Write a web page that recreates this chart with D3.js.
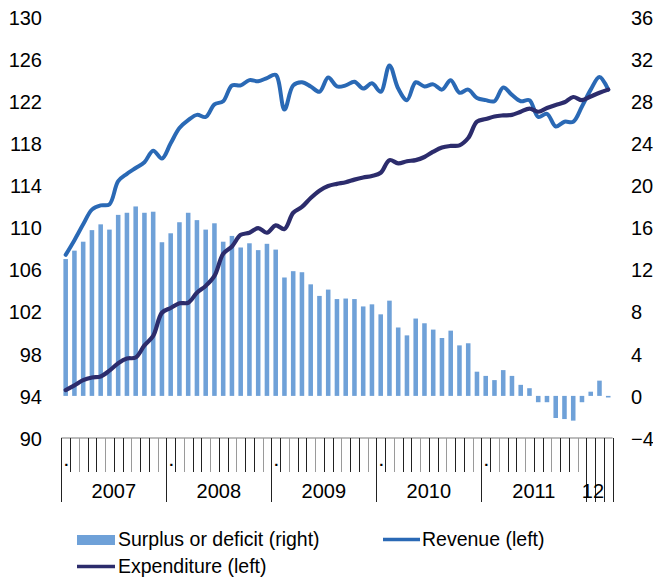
<!DOCTYPE html>
<html>
<head>
<meta charset="utf-8">
<script src="https://cdn.jsdelivr.net/npm/d3@7"></script>
<style>
  html, body { margin: 0; padding: 0; background: #fff; }
  svg { display: block; font-family: "Liberation Sans", Arial, sans-serif; }
</style>
</head>
<body>
<svg id="chart" width="653" height="579"></svg>
<script>
// ---- Data (monthly, Jan 2007 - Mar 2012) ----
const months = d3.range(63); // index of month since Jan 2007
const yearLabels = ["2007", "2008", "2009", "2010", "2011", "12"];
const leftTicks = [90, 94, 98, 102, 106, 110, 114, 118, 122, 126, 130];
const rightTicks = [-4, 0, 4, 8, 12, 16, 20, 24, 28, 32, 36];

const surplus = [
  13.0, 13.8, 14.65, 15.75, 16.3, 15.8, 17.2, 17.4, 18.0, 17.4, 17.5, 14.6,
  15.45, 16.5, 17.4, 16.7, 15.8, 16.4, 14.65, 15.2, 14.1, 14.5, 13.85, 14.45,
  13.9, 11.25, 11.85, 11.75, 10.6, 9.5, 10.1, 9.2, 9.25, 9.2, 8.5, 8.7,
  7.75, 9.05, 6.5, 5.75, 7.35, 6.9, 6.3, 5.5, 6.2, 4.8, 5.0, 2.3,
  1.9, 1.5, 2.45, 1.9, 1.05, 0.73, -0.6, -0.6, -2.1, -2.2, -2.35, -0.6,
  0.4, 1.45, -0.15
];
const revenue = [
  107.4, 108.8, 110.3, 111.7, 112.1, 112.2, 114.4, 115.1, 115.65, 116.2, 117.3, 116.55,
  118.0, 119.45, 120.2, 120.7, 120.5, 121.7, 122.0, 123.5, 123.5, 124.0, 123.9, 124.2,
  124.5, 121.2, 123.5, 123.8, 123.4, 122.9, 124.25, 123.4, 123.5, 123.85, 123.2, 123.7,
  122.9, 125.4, 123.2, 122.1, 123.8, 123.4, 123.6, 123.1, 124.0, 122.8, 123.1, 122.3,
  122.1, 122.0, 123.3, 122.6, 122.0, 122.1, 120.5, 120.8, 119.6, 120.05, 120.05, 121.5,
  123.1, 124.3, 123.1
];
const expenditure = [
  94.56, 95.0, 95.5, 95.75, 95.85, 96.4, 97.1, 97.55, 97.65, 98.8, 99.7, 101.9,
  102.35, 102.8, 102.85, 103.8, 104.45, 105.4, 107.5, 108.2, 109.3, 109.5, 109.95, 109.5,
  110.2, 109.85, 111.4, 111.95, 112.8, 113.5, 113.95, 114.15, 114.3, 114.55, 114.75, 114.9,
  115.2, 116.4, 116.1, 116.3, 116.4, 116.7, 117.2, 117.6, 117.75, 117.8, 118.5, 120.05,
  120.3, 120.55, 120.65, 120.7, 121.0, 121.3, 121.0, 121.35, 121.65, 121.9, 122.4, 122.1,
  122.45, 122.8, 123.1
];

const seriesNames = ["Surplus or deficit (right)", "Revenue (left)", "Expenditure (left)"];
const colors = { surplus: "#6fa1d8", revenue: "#2a69b5", expenditure: "#2c2c6c" };

// ---- Layout ----
const svg = d3.select("#chart");
const plotTop = 17, plotBottom = 438, plotLeft = 61.3, plotRight = 612.6;

const x = d3.scaleBand().domain(months).range([plotLeft, plotRight]).padding(0);
const step = x.step();
const cx = i => x(i) + step / 2;
const yL = d3.scaleLinear().domain([90, 130]).range([plotBottom, plotTop]);
const yR = d3.scaleLinear().domain([-4, 36]).range([plotBottom, plotTop]);

// ---- Bars ----
const barW = step * 0.52;
svg.append("g").selectAll("rect").data(months).join("rect")
  .attr("x", i => cx(i) - barW / 2)
  .attr("width", barW)
  .attr("y", i => Math.min(yR(surplus[i]), yR(0)))
  .attr("height", i => Math.abs(yR(surplus[i]) - yR(0)))
  .attr("fill", colors.surplus);

// ---- Lines ----
const lineOf = arr => d3.line().x(i => cx(i)).y(i => yL(arr[i])).curve(d3.curveCatmullRom.alpha(0.5))(months);
svg.append("path").attr("d", lineOf(revenue))
  .attr("fill", "none").attr("stroke", colors.revenue).attr("stroke-width", 4)
  .attr("stroke-linejoin", "round").attr("stroke-linecap", "round");
svg.append("path").attr("d", lineOf(expenditure))
  .attr("fill", "none").attr("stroke", colors.expenditure).attr("stroke-width", 4.2)
  .attr("stroke-linejoin", "round").attr("stroke-linecap", "round");

// ---- Y axes (labels only) ----
const axL = svg.append("g").attr("transform", "translate(42,0)")
  .call(d3.axisLeft(yL).tickValues(leftTicks).tickSize(0).tickPadding(0));
axL.select(".domain").remove();
axL.selectAll("text").attr("font-size", 20).attr("fill", "#000")
  .attr("font-family", "Liberation Sans, Arial, sans-serif").attr("dy", "0.36em");

const axR = svg.append("g").attr("transform", "translate(631,0)")
  .call(d3.axisRight(yR).tickValues(rightTicks).tickSize(0).tickPadding(0));
axR.select(".domain").remove();
axR.selectAll("text").attr("font-size", 20).attr("fill", "#000")
  .attr("font-family", "Liberation Sans, Arial, sans-serif").attr("dy", "0.36em");

// ---- X axis ----
const gx = svg.append("g");
gx.append("line").attr("x1", plotLeft).attr("x2", plotRight)
  .attr("y1", plotBottom).attr("y2", plotBottom)
  .attr("stroke", "#a6a6a6").attr("stroke-width", 1.5);
const boundaries = d3.range(64);
const isLong = k => k % 12 === 0 || k >= 60;
gx.selectAll("line.tick").data(boundaries).join("line")
  .attr("class", "tick")
  .attr("x1", k => Math.round(plotLeft + k * step) + 0.5)
  .attr("x2", k => Math.round(plotLeft + k * step) + 0.5)
  .attr("y1", plotBottom)
  .attr("y2", k => isLong(k) ? 502 : 472)
  .attr("stroke", k => (k % 3 === 2 && !isLong(k)) ? "#9a9a9a" : "#222")
  .attr("stroke-width", 1);

// small dots at the start of each full year
gx.selectAll("text.dot").data(d3.range(5)).join("text")
  .attr("class", "dot")
  .attr("x", y => plotLeft + y * 12 * step + 3)
  .attr("y", 466)
  .attr("font-size", 15).attr("font-weight", "bold").text(".");

gx.selectAll("text.year").data(yearLabels).join("text")
  .attr("class", "year")
  .attr("x", (d, j) => j < 5 ? plotLeft + (j * 12 + 6) * step : plotLeft + 60 * step + step * 0.75)
  .attr("y", 498)
  .attr("text-anchor", "middle")
  .attr("font-size", 20)
  .text(d => d);

// ---- Legend ----
const lg = svg.append("g").attr("font-size", 19.5);
lg.append("rect").attr("x", 77).attr("y", 535).attr("width", 38).attr("height", 10).attr("fill", colors.surplus);
lg.append("text").attr("x", 118).attr("y", 546).text(seriesNames[0]);
lg.append("line").attr("x1", 383).attr("x2", 420).attr("y1", 539.5).attr("y2", 539.5)
  .attr("stroke", colors.revenue).attr("stroke-width", 3.5);
lg.append("text").attr("x", 422).attr("y", 546).text(seriesNames[1]);
lg.append("line").attr("x1", 77).attr("x2", 115).attr("y1", 566.5).attr("y2", 566.5)
  .attr("stroke", colors.expenditure).attr("stroke-width", 3.5);
lg.append("text").attr("x", 118).attr("y", 573).text(seriesNames[2]);
</script>
</body>
</html>
